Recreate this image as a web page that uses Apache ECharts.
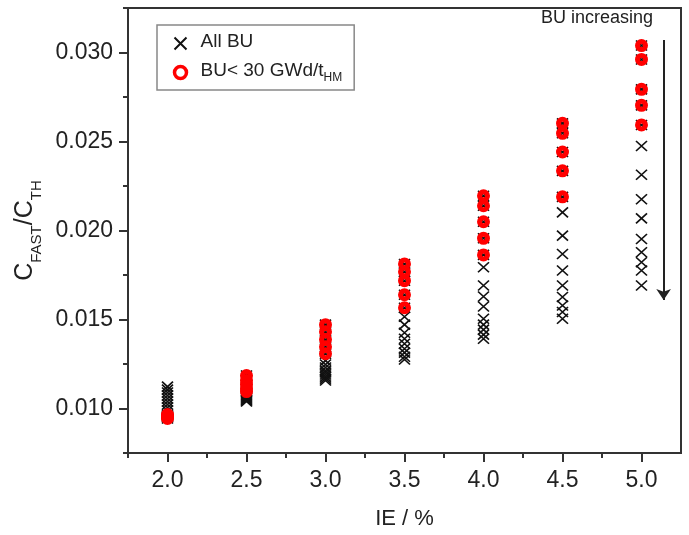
<!DOCTYPE html>
<html>
<head>
<meta charset="utf-8">
<script src="https://cdn.jsdelivr.net/npm/echarts@6/dist/echarts.min.js"></script>
<style>
  html, body { margin: 0; padding: 0; background: #fff; }
  #main { width: 689px; height: 535px; }
</style>
</head>
<body>
<div id="main"></div>
<script>
// IE (%) columns
var ieLevels = [2.0, 2.5, 3.0, 3.5, 4.0, 4.5, 5.0];
// C_FAST/C_TH for BU < 30 GWd/tHM (5 lowest burnups per column)
var ratioLowBU = [
    [0.00966, 0.00961, 0.00955, 0.00950, 0.00944],
    [0.01185, 0.01157, 0.01135, 0.01112, 0.01095],
    [0.01471, 0.01431, 0.01387, 0.01347, 0.01308],
    [0.01812, 0.01768, 0.01718, 0.01639, 0.01566],
    [0.02195, 0.02139, 0.02049, 0.01956, 0.01863],
    [0.02602, 0.02546, 0.02441, 0.02335, 0.02189],
    [0.03039, 0.02961, 0.02793, 0.02703, 0.02593]
];
// remaining (higher) burnups per column
var ratioHighBU = [
    [0.01123, 0.01106, 0.01090, 0.01073, 0.01056, 0.01039, 0.01022, 0.01006, 0.00989],
    [0.01084, 0.01078, 0.01073, 0.01067, 0.01062, 0.01056, 0.01050, 0.01045, 0.01039],
    [0.01269, 0.01247, 0.01230, 0.01213, 0.01202, 0.01191, 0.01179, 0.01168, 0.01157],
    [0.01515, 0.01471, 0.01426, 0.01392, 0.01364, 0.01336, 0.01314, 0.01291, 0.01275],
    [0.01794, 0.01691, 0.01629, 0.01573, 0.01504, 0.01471, 0.01443, 0.01415, 0.01392],
    [0.02102, 0.01971, 0.01868, 0.01775, 0.01691, 0.01626, 0.01579, 0.01542, 0.01504],
    [0.02475, 0.02313, 0.02176, 0.02068, 0.01952, 0.01878, 0.01822, 0.01775, 0.01691]
];
var xMajor = [2.0, 2.5, 3.0, 3.5, 4.0, 4.5, 5.0];
var xMinor = [1.75, 2.25, 2.75, 3.25, 3.75, 4.25, 4.75];
var yMajor = [0.010, 0.015, 0.020, 0.025, 0.030];
var yMinor = [0.0075, 0.0125, 0.0175, 0.0225, 0.0275, 0.0325];
// "BU increasing" arrow: x, y start, y end
var arrowX = 5.14, arrowFrom = 0.0307, arrowTo = 0.0161;

var allName = 'All BU';
var lowName = 'BU< 30 GWd/tHM';

var allData = [], lowData = [];
for (var i = 0; i < ieLevels.length; i++) {
    ratioLowBU[i].concat(ratioHighBU[i]).forEach(function (v) { allData.push([ieLevels[i], v]); });
    ratioLowBU[i].forEach(function (v) { lowData.push([ieLevels[i], v]); });
}

var axisColor = '#333';
var font = 'Liberation Sans, Arial, sans-serif';

var myChart = echarts.init(document.getElementById('main'));
var option = {
    animation: false,
    textStyle: { fontFamily: font },
    grid: {
        left: 128, right: 8, top: 8, bottom: 81,
        show: true, borderColor: axisColor, borderWidth: 2
    },
    legend: {
        orient: 'vertical',
        left: 157, top: 25,
        padding: [7, 12, 6, 15],
        itemGap: 9,
        itemWidth: 30, itemHeight: 12,
        borderColor: '#888', borderWidth: 1.5,
        data: [
            { name: allName },
            { name: lowName, itemStyle: { color: 'none', borderColor: '#ff0000', borderWidth: 3.5 } }
        ],
        formatter: function (name) {
            return name === lowName ? '{m|BU< 30 GWd/t}{s|HM}' : '{m|' + name + '}';
        },
        textStyle: {
            color: '#222', fontSize: 19,
            rich: {
                m: { fontSize: 19, color: '#222', padding: [0, 0, 4, 0], verticalAlign: 'bottom' },
                s: { fontSize: 12, color: '#222', verticalAlign: 'bottom' }
            }
        }
    },
    xAxis: [{
        type: 'value', min: 1.75, max: 5.25, position: 'bottom',
        name: 'IE / %', nameLocation: 'middle', nameGap: 55,
        nameTextStyle: { fontSize: 22, color: '#222' },
        axisLine: { lineStyle: { color: axisColor, width: 2 } },
        axisTick: { customValues: xMajor, length: 9, lineStyle: { color: axisColor, width: 2 } },
        axisLabel: { customValues: xMajor, fontSize: 23, color: '#222', margin: 16,
            formatter: function (v) { return v.toFixed(1); } },
        splitLine: { show: false }
    }, {
        type: 'value', min: 1.75, max: 5.25, position: 'bottom',
        axisLine: { show: false },
        axisTick: { customValues: xMinor, length: 5, lineStyle: { color: axisColor, width: 2 } },
        axisLabel: { show: false, customValues: xMinor },
        splitLine: { show: false }
    }],
    yAxis: [{
        type: 'value', min: 0.0075, max: 0.0325, position: 'left',
        name: '{m|C}{s|FAST}{m|/C}{s|TH}', nameLocation: 'middle', nameGap: 77,
        nameTextStyle: {
            rich: {
                m: { fontSize: 25, color: '#222', padding: [0, 0, 7, 0], verticalAlign: 'bottom' },
                s: { fontSize: 15, color: '#222', verticalAlign: 'bottom' }
            }
        },
        axisLine: { lineStyle: { color: axisColor, width: 2 } },
        axisTick: { customValues: yMajor, length: 9, lineStyle: { color: axisColor, width: 2 } },
        axisLabel: { customValues: yMajor, fontSize: 23, color: '#222', margin: 15,
            formatter: function (v) { return v.toFixed(3); } },
        splitLine: { show: false }
    }, {
        type: 'value', min: 0.0075, max: 0.0325, position: 'left',
        axisLine: { show: false },
        axisTick: { customValues: yMinor, length: 5, lineStyle: { color: axisColor, width: 2 } },
        axisLabel: { show: false, customValues: yMinor },
        splitLine: { show: false }
    }],
    series: [
        {
            name: allName,
            type: 'scatter',
            symbol: 'path://M0,0L10,10M10,0L0,10',
            symbolSize: [11, 10],
            itemStyle: { color: 'none', borderColor: '#111', borderWidth: 1.6, opacity: 1 },
            emphasis: { disabled: true },
            data: allData,
            markLine: {
                silent: true,
                symbol: ['none', 'arrow'],
                symbolSize: 11,
                label: { show: false },
                lineStyle: { color: '#222', width: 2, type: 'solid' },
                data: [[{ coord: [arrowX, arrowFrom] }, { coord: [arrowX, arrowTo] }]]
            }
        },
        {
            name: lowName,
            type: 'scatter',
            symbol: 'circle',
            symbolSize: 8,
            itemStyle: { color: 'none', borderColor: '#ff0000', borderWidth: 5, opacity: 1 },
            emphasis: { disabled: true },
            data: lowData
        }
    ],
    graphic: [{
        type: 'text',
        right: 36, top: 9,
        style: { text: 'BU increasing', fontSize: 18, fill: '#222', fontFamily: font }
    }]
};
myChart.setOption(option);
</script>
</body>
</html>
